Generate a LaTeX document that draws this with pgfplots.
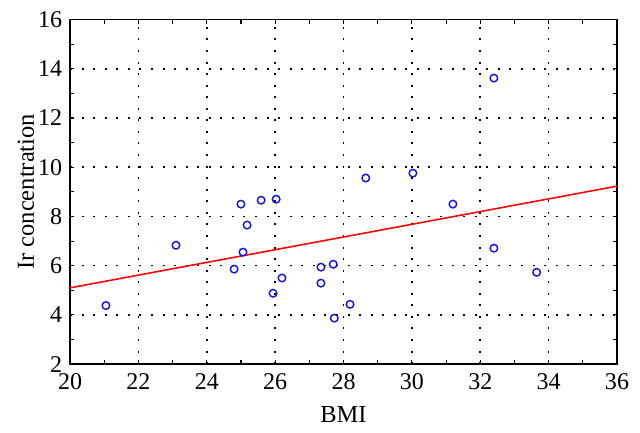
\documentclass[border=0pt]{standalone}
\usepackage{fontspec}
\setmainfont{Liberation Serif}
\usepackage{pgfplots}
\pgfplotsset{compat=1.18}

\pgfplotstableread{
bmi ir
21.05 4.38
23.10 6.83
25.00 8.50
25.59 8.66
26.03 8.70
25.18 7.65
25.06 6.55
24.80 5.86
26.20 5.50
25.94 4.88
27.34 5.94
27.70 6.06
27.34 5.29
27.73 3.87
28.19 4.43
28.65 9.56
30.03 9.76
31.20 8.50
32.40 13.62
32.40 6.71
33.65 5.73
}\pts

\begin{document}
\begin{tikzpicture}[x=0.45pt,y=0.45pt]
\begin{axis}[
  name=ax,
  scale only axis,
  width=246pt, height=155pt,
  xmin=20, xmax=36, ymin=2, ymax=16,
  xtick={20,22,...,36}, ytick={2,4,...,16},
  minor x tick num=1, minor y tick num=1,
  tick align=inside, tick pos=both,
  major tick length=2pt, minor tick length=2pt,
  axis line style={line width=0.7pt},
  every tick/.style={black, line width=0.5pt},
  grid=major,
  major grid style={black, line width=0.7pt, dash pattern=on 0.9pt off 4.3pt},
  xlabel={BMI}, ylabel={Ir concentration},
  xlabel style={yshift=-0.5pt},
  ylabel style={yshift=-5pt},
  xticklabel style={yshift=-0.8pt},
  /pgf/number format/assume math mode=true,
  tick label style={font=\fontsize{10.8}{13}\selectfont},
  label style={font=\fontsize{11}{13}\selectfont},
  clip=false,
]
\addplot[red, line width=0.7pt] coordinates {(20,5.10) (36,9.23)};
\addplot[only marks, mark=o, mark size=1.7pt, color={rgb,255:red,20;green,20;blue,220},
  mark options={line width=0.65pt}] table[x=bmi,y=ir] {\pts};
\end{axis}
\path (ax.south west) ++(-70,-68) coordinate (bl);
\path (ax.north east) ++(23,19.5) coordinate (tr);
\useasboundingbox (bl) rectangle (tr);
\end{tikzpicture}
\end{document}
